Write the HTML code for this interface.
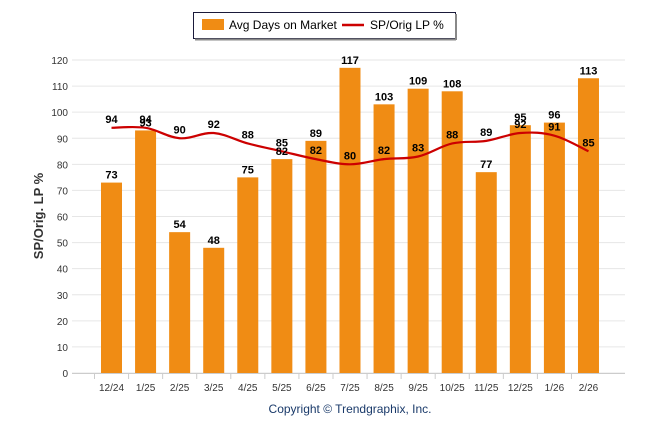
<!DOCTYPE html>
<html><head><meta charset="utf-8"><style>
body{margin:0;background:#fff;font-family:"Liberation Sans",sans-serif}
svg text{font-family:"Liberation Sans",sans-serif}
</style></head><body>
<svg width="646" height="434" xmlns="http://www.w3.org/2000/svg">
<g>
<rect x="193.5" y="12.5" width="262" height="26" fill="#fff" stroke="#1a1a3a" stroke-width="1"/>
<line x1="456" y1="14" x2="456" y2="40" stroke="#888" stroke-width="2"/>
<line x1="195" y1="39.5" x2="456" y2="39.5" stroke="#888" stroke-width="2"/>
<rect x="202" y="19" width="22" height="11" fill="#f08c14"/>
<text x="229" y="29" font-size="12" fill="#000">Avg Days on Market</text>
<line x1="342" y1="25" x2="364" y2="25" stroke="#cc0000" stroke-width="2.5"/>
<text x="370" y="29" font-size="12" fill="#000">SP/Orig LP %</text>
</g>
<g id="grid"></g>
<g id="bars"></g>
<path id="line" fill="none" stroke="#cc0000" stroke-width="2.2"/>
<g id="labels"></g>
<text transform="translate(43,216) rotate(-90)" text-anchor="middle" font-size="13" font-weight="bold" fill="#333">SP/Orig. LP %</text>
<text x="350" y="413" text-anchor="middle" font-size="12" fill="#1a3a6a">Copyright © Trendgraphix, Inc.</text>
</svg>
<script>
const categories=["12/24","1/25","2/25","3/25","4/25","5/25","6/25","7/25","8/25","9/25","10/25","11/25","12/25","1/26","2/26"];
const daysOnMarket=[73,93,54,48,75,82,89,117,103,109,108,77,95,96,113];
const spOrig=[94,94,90,92,88,85,82,80,82,83,88,89,92,91,85];
const yTicks=[0,10,20,30,40,50,60,70,80,90,100,110,120];
const NS="http://www.w3.org/2000/svg";
const y=v=>373-v*(313/120);
const x=i=>111.5+i*34.07;
function mk(t,a,p){const e=document.createElementNS(NS,t);for(const k in a)e.setAttribute(k,a[k]);p.appendChild(e);return e;}
const grid=document.getElementById('grid'),bars=document.getElementById('bars'),labels=document.getElementById('labels');
yTicks.forEach(v=>{
 const l=mk('line',{x1:72,x2:625,y1:y(v),y2:y(v),stroke:'#e6e6e6','stroke-width':1},grid);
 
 
 const t=mk('text',{x:68,y:y(v)+4,'text-anchor':'end','font-size':10,fill:'#333'},grid);
 t.textContent=v;
 
 
});
mk('line',{x1:72,x2:625,y1:373.5,y2:373.5,stroke:'#ccc'},grid);
categories.forEach((c,i)=>{
 const tk=mk('line',{x1:x(i)-17,x2:x(i)-17,y1:374,y2:379,stroke:'#ccc'},grid);
 
 
 const t=mk('text',{x:x(i),y:391,'text-anchor':'middle','font-size':10,fill:'#333'},grid);
 t.textContent=c;
 
 
 const b=mk('rect',{x:x(i)-10.5,y:y(daysOnMarket[i]),width:21,height:y(0)-y(daysOnMarket[i]),fill:'#f08c14'},bars);
 
 
 const bl=mk('text',{x:x(i),y:y(daysOnMarket[i])-4,'text-anchor':'middle','font-size':11,'font-weight':'bold',fill:'#000'},labels);
 bl.textContent=daysOnMarket[i];
 
 
 const ll=mk('text',{x:x(i),y:y(spOrig[i])-5,'text-anchor':'middle','font-size':11,'font-weight':'bold',fill:'#000'},labels);
 ll.textContent=spOrig[i];
 
 
});
// smooth path (monotone-ish cardinal)
const pts=spOrig.map((v,i)=>[x(i),y(v)]);
let d='M'+pts[0][0]+','+pts[0][1];
for(let i=0;i<pts.length-1;i++){
 const p0=pts[Math.max(0,i-1)],p1=pts[i],p2=pts[i+1],p3=pts[Math.min(pts.length-1,i+2)];
 const t=0.18;
 const c1=[p1[0]+(p2[0]-p0[0])*t,p1[1]+(p2[1]-p0[1])*t];
 const c2=[p2[0]-(p3[0]-p1[0])*t,p2[1]-(p3[1]-p1[1])*t];
 d+=' C'+c1+' '+c2+' '+p2;
}
document.getElementById('line').setAttribute('d',d);
</script>
</body></html>
